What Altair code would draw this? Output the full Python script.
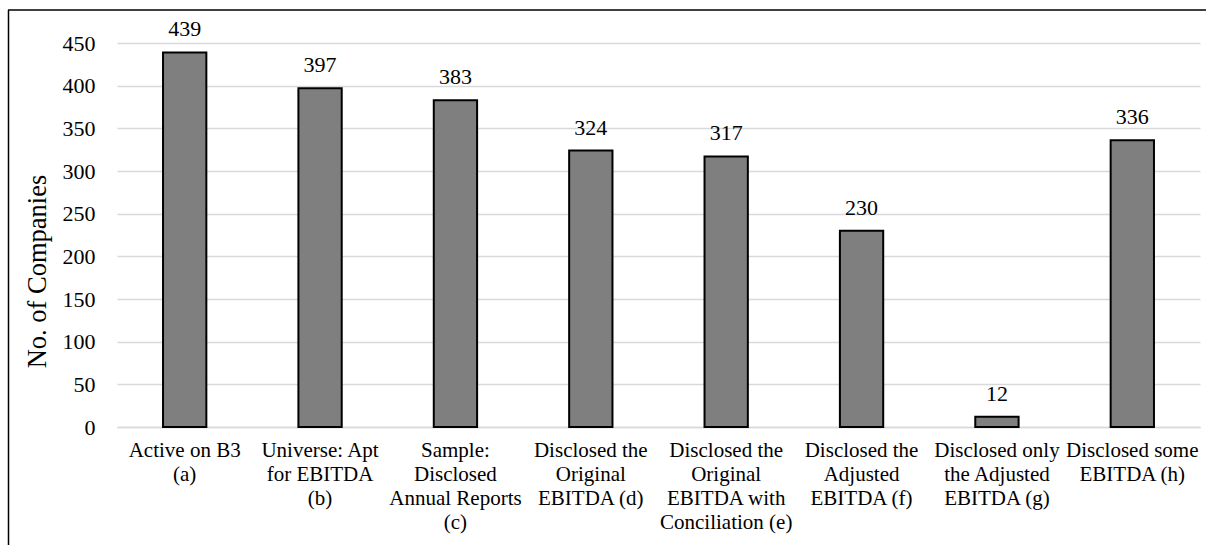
import altair as alt
import pandas as pd

categories = [
    "Active on B3|(a)",
    "Universe: Apt|for EBITDA|(b)",
    "Sample:|Disclosed|Annual Reports|(c)",
    "Disclosed the|Original|EBITDA (d)",
    "Disclosed the|Original|EBITDA with|Conciliation (e)",
    "Disclosed the|Adjusted|EBITDA (f)",
    "Disclosed only|the Adjusted|EBITDA (g)",
    "Disclosed some|EBITDA (h)",
]
values = [439, 397, 383, 324, 317, 230, 12, 336]
y_ticks = [0, 50, 100, 150, 200, 250, 300, 350, 400, 450]

df = pd.DataFrame({"cat": categories, "val": values})

FONT = "Liberation Serif"

x_enc = alt.X(
    "cat:N",
    sort=categories,
    scale=alt.Scale(paddingInner=0.68, paddingOuter=0.34),
    axis=alt.Axis(
        title=None,
        labelExpr="split(datum.label, '|')",
        labelAngle=0,
        labelFontSize=21,
        labelLineHeight=24,
        labelPadding=12,
        labelLimit=300,
        labelColor="#000000",
        labelFont=FONT,
        domain=True,
        domainColor="#d9d9d9",
        domainWidth=1.5,
        ticks=False,
        grid=False,
    ),
)

y_enc = alt.Y(
    "val:Q",
    scale=alt.Scale(domain=[0, 450], nice=False),
    axis=alt.Axis(
        title="No. of Companies",
        titleFont=FONT,
        titleFontSize=26.5,
        titleFontWeight="normal",
        titleColor="#000000",
        titleAngle=270,
        titleAlign="center",
        titleBaseline="middle",
        titleX=-80,
        titleY=228,
        values=y_ticks,
        labelFontSize=22,
        labelFont=FONT,
        labelColor="#000000",
        labelPadding=22,
        domain=False,
        ticks=False,
        grid=True,
        gridColor="#d9d9d9",
        gridWidth=1.5,
    ),
)

base = alt.Chart(df)

bars = base.mark_bar(fill="#7f7f7f", stroke="#000000", strokeWidth=2).encode(
    x=x_enc, y=y_enc
)

labels = base.mark_text(
    font=FONT, fontSize=22, color="#000000", baseline="alphabetic", dy=-16
).encode(x=alt.X("cat:N", sort=categories), y="val:Q", text="val:Q")

dummy = pd.DataFrame({"a": [0]})
left_border = alt.Chart(dummy).mark_rule(color="#000000", strokeWidth=1.5).encode(
    x=alt.value(-108.5), y=alt.value(-33), y2=alt.value(510)
)
top_border = alt.Chart(dummy).mark_rule(color="#000000", strokeWidth=1.5).encode(
    x=alt.value(-109), x2=alt.value(1095), y=alt.value(-33)
)

chart = (
    alt.layer(bars, labels, left_border, top_border)
    .properties(
        width=1083,
        height=384,
        autosize=alt.AutoSizeParams(type="none"),
        padding={"left": 117, "top": 43, "right": 6, "bottom": 118},
        background="white",
    )
    .configure_view(stroke=None)
)

chart.save("out.html", embed_options={"renderer": "svg", "actions": False})
